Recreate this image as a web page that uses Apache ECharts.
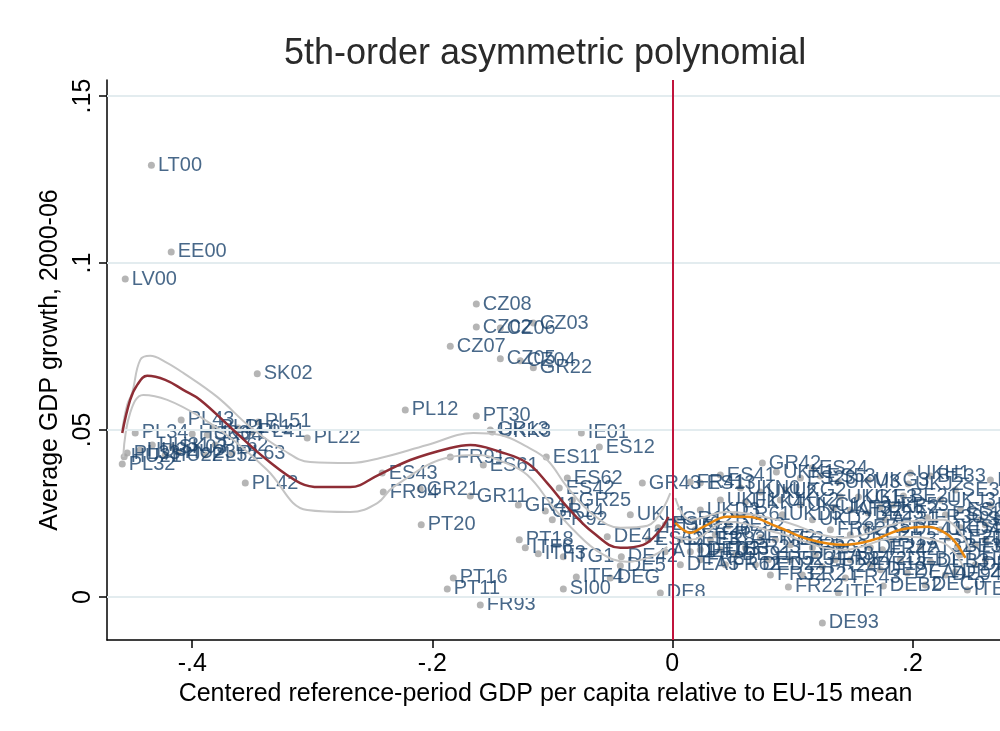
<!DOCTYPE html>
<html>
<head>
<meta charset="utf-8">
<script src="https://cdn.jsdelivr.net/npm/echarts@6/dist/echarts.min.js"></script>
<style>
  html, body { margin: 0; padding: 0; background: #fff; }
  #chart { width: 1000px; height: 731px; }
</style>
</head>
<body>
<div id="chart"></div>
<script>
// region codes, relative GDP per capita (centered) and average growth 2000-06
const regionCodes = [
  'LT00','EE00','LV00','SK02','PL12','CZ08','CZ02','CZ06','CZ03','CZ07',
  'CZ05','CZ04','GR22','PT30','GR13','UKK3','IE01','ES12','ES11','FR91',
  'ES61','ES43','FR94','GR21','GR11','PT20','GR41','GR14','FR92','PT18',
  'ITF6','ITF3','ITG1','PT16','PT11','FR93','SI00','ITF4','DEG','DE5',
  'DE8','DE41','DE42','UKL1','GR25','ES62','ES42','GR43','PT15','ES63',
  'AT11','ES70',
  // eastern cluster
  'PL34','PL32','PL33','HU32','HU31','SK03','HU22','HU23','PL43','HU33',
  'SK04','PL11','PL62','PL52','PL63','PL61','PL41','PL51','PL22','PL42','HU21',
  // above-average cluster
  'GR42','UKK1','ES24','ES53','UKM3','UKG1','UKG3','UKH1','UKJ2','BE33',
  'BE21','UKE2','BE23','ES51','FR30','ES52','FR51','AT32','FR42','DEB3',
  'DEB2','ITE4','DEA4','BE32','ITF1','FR22','DE93','DE94','ES13','UKK4',
  'UKD5','GR12','FR52','FR24','FR41','UKN0','UKL2','UKC1','ES41','UKF3',
  'FR53','UKE3','FR26','FR83','DE92','FR23','FR25','FR63','FR72','FR81',
  'FR62','DEA5','DE72','DE13','DEB1','DEE2','FR21','FR43','FR32','DEF0',
  'DE41','UKD4','SE23','DE73','UKF2','UKC2','FR82','ITE2','ITE3','DE23',
  'DEC0','DE22','FI13','FI19','SE21','UKJ4','UKG2','ES23','FR61','UKD2',
  'DEE3','DED3','FR71','DE91','DED2','FR31','DEA3','FR34','DE27','ES21',
  'SE22','DE25','UKD3','UKF1','UKK2','AT22','AT31','UKJ3','SE31','IE02'
];
const gdpRel = [
  -0.434,-0.4175,-0.4558,-0.3458,-0.2225,-0.1633,-0.1633,-0.1433,-0.1158,-0.185,
  -0.1433,-0.1267,-0.1158,-0.1633,-0.1517,-0.150,-0.0758,-0.0608,-0.105,-0.185,
  -0.1575,-0.2417,-0.2408,-0.210,-0.1683,-0.2092,-0.1283,-0.1058,-0.100,-0.1275,
  -0.1225,-0.1117,-0.0908,-0.1825,-0.1875,-0.160,-0.0908,-0.080,-0.0517,-0.0433,
  -0.010,-0.0542,-0.0425,-0.035,-0.0833,-0.0875,-0.0942,-0.025,-0.0117,-0.020,
  -0.006,-0.0058,
  -0.4475,-0.4583,-0.4542,-0.4433,-0.4333,-0.4167,-0.4225,-0.4117,-0.4092,-0.400,
  -0.3875,-0.3825,-0.3808,-0.3892,-0.3667,-0.3617,-0.350,-0.345,-0.3042,-0.3558,-0.4567,
  0.075,0.0867,0.1167,0.1233,0.1383,0.140,0.1633,0.1983,0.1967,0.215,
  0.1925,0.1733,0.1633,0.2275,0.2125,0.240,0.1617,0.2067,0.175,0.215,
  0.1758,0.2458,0.1958,0.2375,0.1383,0.0967,0.125,0.2275,0.0233,0.0608,
  0.0917,0.0025,0.080,0.125,0.015,0.0567,0.0733,0.1067,0.040,0.1342,
  0.1842,0.155,0.0192,0.0317,0.0467,0.0608,0.0983,0.1167,0.0733,0.0233,
  0.0442,0.0067,0.1483,0.165,0.190,0.2608,0.1083,0.1442,0.0817,0.015,
  0.1942,0.2233,0.2567,0.240,0.2608,0.1483,0.1317,0.0858,0.040,0.2358,
  0.2108,0.165,0.1817,0.2525,0.230,0.265,0.0942,0.1067,0.0525,0.1167,
  0.0067,0.0233,0.0358,0.0525,0.0692,0.0983,0.1192,0.1358,0.1733,0.240,
  0.2608,0.2525,0.0233,0.040,0.090,0.1483,0.1775,0.2233,0.2358,0.265
];
const growth = [
  0.1293,0.1033,0.0952,0.0668,0.0560,0.0877,0.0808,0.0805,0.0820,0.0751,
  0.0713,0.0707,0.0686,0.0542,0.0500,0.0494,0.0491,0.0449,0.0419,0.0419,
  0.0395,0.0371,0.0314,0.0323,0.0302,0.0216,0.0275,0.0257,0.0231,0.0171,
  0.0147,0.0129,0.0120,0.0057,0.0024,-0.0024,0.0024,0.0060,0.0057,0.0093,
  0.0012,0.0180,0.0120,0.0246,0.0290,0.0356,0.0326,0.0341,0.0207,0.0171,
  0.0135,0.0216,
  0.0491,0.0398,0.0431,0.0440,0.0455,0.0449,0.0425,0.0434,0.0530,0.0488,
  0.0485,0.0506,0.0455,0.0425,0.0431,0.0506,0.0494,0.0524,0.0476,0.0341,0.0420,
  0.0401,0.0374,0.0386,0.0362,0.0344,0.0299,0.0350,0.0371,0.0338,0.0362,
  0.0302,0.0269,0.0251,0.0246,0.0237,0.0207,0.0207,0.0150,0.0141,0.0105,
  0.0033,0.0021,0.0072,0.0150,0.0012,0.0030,-0.0078,0.0066,0.0341,0.0284,
  0.0246,0.0231,0.0111,0.0090,0.0344,0.0326,0.0314,0.0275,0.0365,0.0266,
  0.0275,0.0299,0.0201,0.0171,0.0213,0.0147,0.0156,0.0147,0.0177,0.0111,
  0.0096,0.0096,0.0111,0.0096,0.0111,0.0111,0.0066,0.0057,0.0066,0.0135,
  0.0201,0.0201,0.0231,0.0126,0.0171,0.0186,0.0201,0.0171,0.0141,0.0075,
  0.0036,0.0147,0.0171,0.0156,0.0177,0.0275,0.0320,0.0356,0.0246,0.0231,
  0.0171,0.0141,0.0186,0.0126,0.0096,0.0111,0.0126,0.0111,0.0081,0.0260,
  0.0216,0.0096,0.0260,0.0290,0.0290,0.0260,0.0231,0.0290,0.0320,0.0350
];

// fitted polynomial below the threshold, with 95% band
const leftFit = [
  [-0.4583,0.0491],[-0.4517,0.0590],[-0.4458,0.0635],[-0.4375,0.0662],[-0.4225,0.0650],
  [-0.4075,0.0620],[-0.3933,0.0590],[-0.3658,0.0500],[-0.3375,0.0410],[-0.310,0.0341],
  [-0.2933,0.0329],[-0.2683,0.0329],[-0.245,0.0365],[-0.2183,0.0410],[-0.185,0.0446],
  [-0.1683,0.0455],[-0.1433,0.0434],[-0.1208,0.0401],[-0.1042,0.0341],[-0.0875,0.0269],
  [-0.0658,0.0192],[-0.0433,0.0147],[-0.0242,0.0156],[-0.010,0.0201],[-0.0033,0.0240]
];
const leftUpper = [
  [-0.4583,0.0500],[-0.4542,0.0575],[-0.450,0.0611],[-0.4433,0.0710],[-0.435,0.0722],
  [-0.4225,0.0704],[-0.4075,0.0671],[-0.3792,0.0599],[-0.3517,0.0509],[-0.3242,0.0440],
  [-0.3017,0.0404],[-0.2683,0.0401],[-0.2433,0.0416],[-0.2042,0.0455],[-0.1658,0.0491],
  [-0.1433,0.0485],[-0.1208,0.0449],[-0.1042,0.0410],[-0.0875,0.0329],[-0.0658,0.0246],
  [-0.0433,0.0207],[-0.0208,0.0213],[-0.0017,0.0311]
];
const leftLower = [
  [-0.4575,0.0419],[-0.4517,0.0551],[-0.4408,0.0605],[-0.4208,0.0590],[-0.3933,0.0539],
  [-0.3658,0.0470],[-0.3375,0.0380],[-0.3042,0.0260],[-0.2683,0.0254],[-0.2458,0.0281],
  [-0.2325,0.0329],[-0.185,0.0419],[-0.1625,0.0425],[-0.1408,0.0404],[-0.1208,0.0365],
  [-0.0992,0.0269],[-0.0825,0.0201],[-0.060,0.0132],[-0.0375,0.0105],[-0.0183,0.0120],
  [-0.0042,0.0150]
];
// fitted polynomial above the threshold, with 95% band
const rightFit = [
  [0.0025,0.0222],[0.015,0.0192],[0.0258,0.0210],[0.0458,0.0240],[0.0625,0.0240],
  [0.0875,0.0210],[0.115,0.0171],[0.1425,0.0156],[0.1675,0.0171],[0.190,0.0201],
  [0.2125,0.0210],[0.2258,0.0195],[0.2342,0.0171],[0.2442,0.0117]
];
const rightUpper = [
  [0.0025,0.0296],[0.015,0.0231],[0.0458,0.0254],[0.0875,0.0231],[0.1425,0.0177],
  [0.190,0.0222],[0.2258,0.0231],[0.2483,0.0141]
];
const rightLower = [
  [0.0025,0.0180],[0.015,0.0171],[0.0458,0.0225],[0.0875,0.0192],[0.1425,0.0141],
  [0.190,0.0180],[0.2258,0.0162],[0.2425,0.0090]
];

const xTicks = [-0.4, -0.2, 0, 0.2];
const yTicks = [0, 0.05, 0.1, 0.15];

function stataNum(v) {
  if (Math.abs(v) < 1e-9) return '0';
  let s = String(Math.round(Math.abs(v) * 1000) / 1000).replace(/^0/, '');
  return (v < 0 ? '-' : '') + s;
}

const font = "'Liberation Sans', Arial, sans-serif";
const points = regionCodes.map((c, i) => [gdpRel[i], growth[i], c]);

function bandSeries(data) {
  return {
    type: 'line', data: data, smooth: 0.4, showSymbol: false, silent: true, z: 4,
    lineStyle: { color: '#c4c4c4', width: 2 }
  };
}

const chart = echarts.init(document.getElementById('chart'));
chart.setOption({
  animation: false,
  backgroundColor: '#fff',
  title: {
    text: '5th-order asymmetric polynomial',
    left: 279, top: 31,
    textStyle: { fontFamily: font, fontSize: 36, fontWeight: 'normal', color: '#2a2a2a' }
  },
  grid: { left: 107, right: 0, top: 80, bottom: 91, containLabel: false, outerBoundsMode: 'none' },
  xAxis: {
    type: 'value', min: -0.471, max: 0.273,
    name: 'Centered reference-period GDP per capita relative to EU-15 mean',
    nameLocation: 'middle', nameGap: 40,
    nameTextStyle: { fontFamily: font, fontSize: 25, color: '#000', padding: [0, 16, 0, 0] },
    axisLine: { show: true, onZero: false, lineStyle: { color: '#000', width: 1.5 } },
    axisTick: { show: true, length: 8, customValues: xTicks, lineStyle: { color: '#000', width: 1.5 } },
    axisLabel: { customValues: xTicks, formatter: stataNum, margin: 12,
      fontFamily: font, fontSize: 25, color: '#000' },
    splitLine: { show: false }
  },
  yAxis: {
    type: 'value', min: -0.0129, max: 0.1548,
    name: 'Average GDP growth, 2000-06',
    nameLocation: 'middle', nameGap: 44,
    nameTextStyle: { fontFamily: font, fontSize: 25, color: '#000' },
    axisLine: { show: true, onZero: false, lineStyle: { color: '#000', width: 1.5 } },
    axisTick: { show: true, length: 8, customValues: yTicks, lineStyle: { color: '#000', width: 1.5 } },
    axisLabel: { customValues: yTicks, formatter: stataNum, rotate: 90, margin: 11,
      fontFamily: font, fontSize: 25, color: '#000' },
    splitLine: { show: false }
  },
  series: [
    {
      // horizontal gridlines
      type: 'line', data: [], z: 0, silent: true,
      markLine: {
        silent: true, symbol: 'none', label: { show: false },
        lineStyle: { color: '#e3ecef', width: 2, type: 'solid' },
        data: yTicks.filter(v => v > 0).map(v => ({ yAxis: v })).concat([{ yAxis: 0 }])
      }
    },
    {
      type: 'scatter', data: points, symbolSize: 7, z: 2,
      itemStyle: { color: '#a3a3a3' },
      label: {
        show: true, position: 'right', distance: 3,
        formatter: p => p.data[2],
        fontFamily: font, fontSize: 20, color: '#1a426c'
      },
      labelLayout: { hideOverlap: false }
    },
    bandSeries(leftUpper),
    bandSeries(leftLower),
    bandSeries(rightUpper),
    bandSeries(rightLower),
    {
      type: 'line', data: leftFit, smooth: 0.4, showSymbol: false, silent: true, z: 5,
      lineStyle: { color: '#8e2d35', width: 2.5 }
    },
    {
      type: 'line', data: rightFit, smooth: 0.4, showSymbol: false, silent: true, z: 5,
      lineStyle: { color: '#e8870e', width: 2.5 },
      markLine: {
        silent: true, symbol: 'none', label: { show: false },
        lineStyle: { color: '#c0143c', width: 2, type: 'solid' },
        data: [{ xAxis: 0 }]
      }
    }
  ]
});
</script>
</body>
</html>
